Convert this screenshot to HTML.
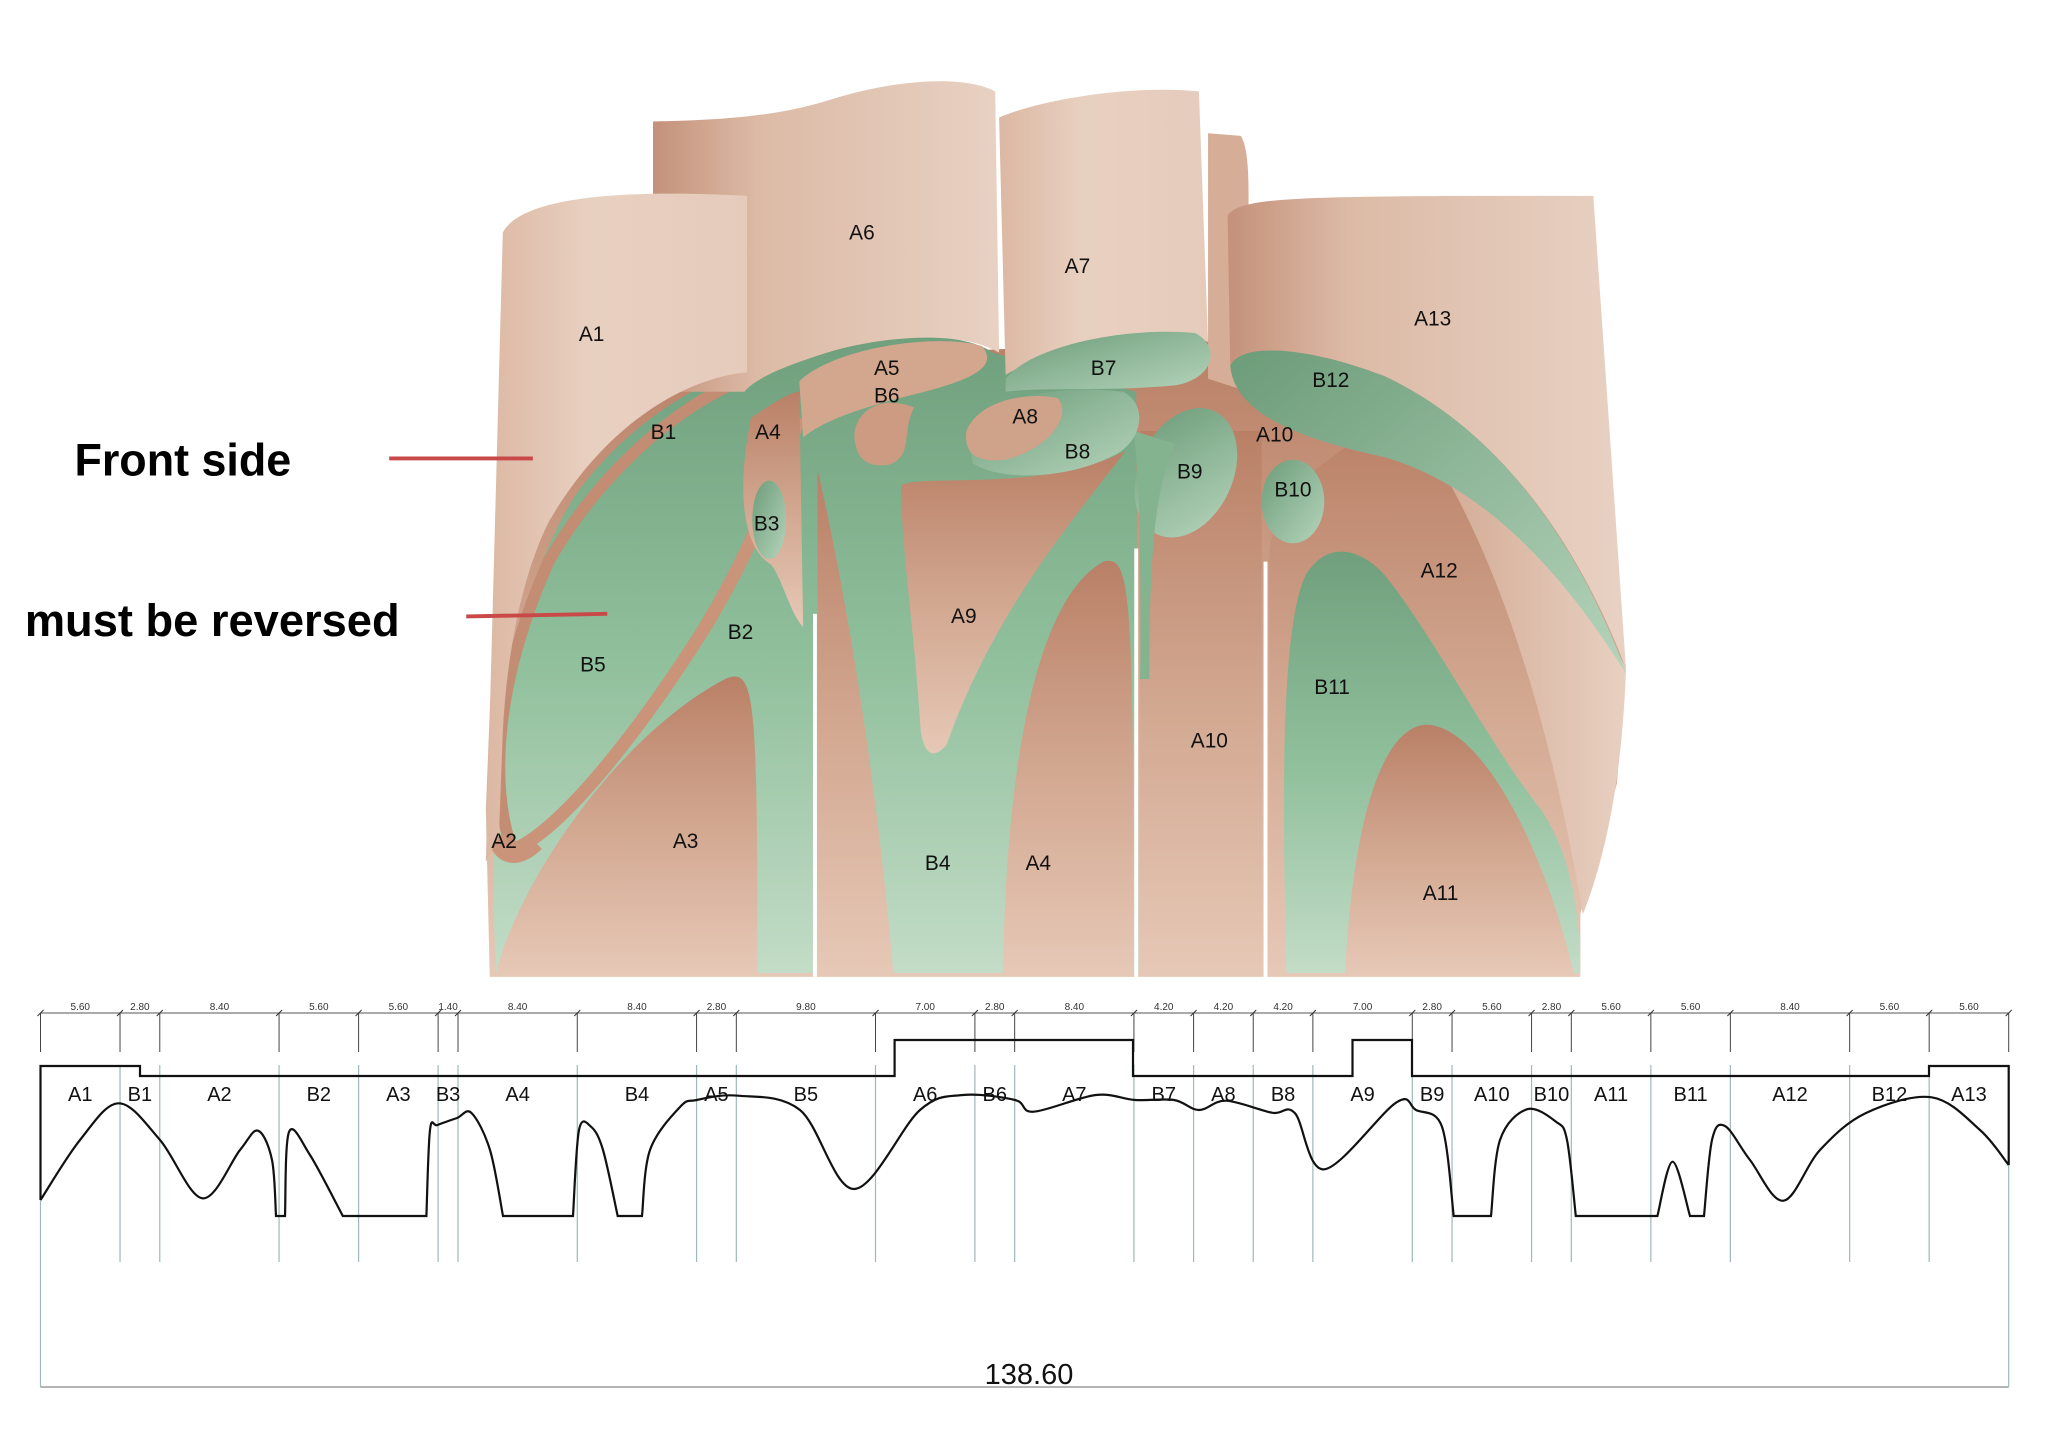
<!DOCTYPE html>
<html><head><meta charset="utf-8"><style>
html,body{margin:0;padding:0;background:#fff;}
svg{display:block;}
text{font-family:"Liberation Sans",Arial,sans-serif;}
</style></head><body>
<svg id="s" width="2048" height="1448" viewBox="0 0 2048 1448" xmlns="http://www.w3.org/2000/svg">
<defs>
<linearGradient id="pk" x1="0" y1="0" x2="0" y2="1"><stop offset="0" stop-color="#b98066"/><stop offset="0.5" stop-color="#d2a790"/><stop offset="1" stop-color="#e6c8b6"/></linearGradient>
<linearGradient id="pl" x1="0" y1="0" x2="1" y2="0"><stop offset="0" stop-color="#dcb8a3"/><stop offset="0.4" stop-color="#e8d0c1"/><stop offset="1" stop-color="#e6cbbb"/></linearGradient>
<linearGradient id="ps" x1="0" y1="0" x2="1" y2="0"><stop offset="0" stop-color="#c4917a"/><stop offset="0.3" stop-color="#dcbaa6"/><stop offset="1" stop-color="#e8d1c3"/></linearGradient>
<linearGradient id="pr" x1="0" y1="0" x2="1" y2="0"><stop offset="0" stop-color="#d4ad97"/><stop offset="1" stop-color="#e8d0c1"/></linearGradient>
<linearGradient id="gr" x1="0" y1="0" x2="0" y2="1"><stop offset="0" stop-color="#6f9f7c"/><stop offset="0.5" stop-color="#8fbf9b"/><stop offset="1" stop-color="#c3dcc7"/></linearGradient>
<linearGradient id="gr2" x1="0" y1="0" x2="1" y2="1"><stop offset="0" stop-color="#6c9c79"/><stop offset="1" stop-color="#b5d4bb"/></linearGradient>
</defs>
<g transform="scale(1.306)">
<path d="M375,748 L372,620 L385,300 L500,280 L920,260 L1220,300 L1245,512 L1238,600 L1210,700 L1210,748 Z" fill="url(#pk)"/>
<path d="M380,745 C372,600 385,470 440,380 C490,310 560,280 620,265 C680,252 740,255 760,270 L870,300 L872,745 Z" fill="url(#gr)"/>
<path d="M380,745 C395,680 470,565 555,520 C578,510 580,530 580,745Z" fill="url(#pk)"/>
<path d="M392,650 C374,600 380,520 420,430 C460,360 520,310 570,290" fill="none" stroke="#c38d73" stroke-width="9"/>
<path d="M388,652 C420,645 480,575 540,480 C570,430 592,380 612,320" fill="none" stroke="#c99479" stroke-width="10"/>
<path d="M380,640 C385,660 400,655 410,645" fill="none" stroke="#c99479" stroke-width="14"/>
<path d="M575,320 C590,310 605,300 612,300 L615,480 C605,470 598,440 590,432 C570,420 563,380 575,320Z" fill="url(#pk)"/>
<ellipse cx="589" cy="398" rx="13" ry="30" fill="url(#gr2)"/>
<path d="M626,745 L626,360 C640,420 668,560 684,745Z" fill="url(#pk)"/>
<path d="M690,372 C700,362 800,378 862,345 C820,400 760,470 725,570 C715,582 708,578 705,560 C700,480 690,420 690,372Z" fill="url(#pk)"/>
<path d="M768,745 C770,600 790,460 845,430 C866,425 868,450 868,745Z" fill="url(#pk)"/>
<path d="M873,745 L873,330 L966,330 L966,745Z" fill="url(#pk)"/>
<path d="M972,745 L972,420 C980,380 1000,365 1020,350 L1060,320 L1180,380 L1245,512 L1238,600 L1210,700 L1210,745Z" fill="url(#pk)"/>
<path d="M1110,370 C1180,410 1235,490 1245,512 C1242,600 1228,660 1212,700 C1195,600 1165,470 1110,370Z" fill="url(#pr)"/>
<path d="M985,745 C982,620 980,480 1000,440 C1015,415 1040,418 1060,440 C1100,490 1140,570 1180,620 C1200,650 1210,690 1210,745Z" fill="url(#gr)"/>
<path d="M1030,745 C1035,640 1055,560 1090,555 C1130,552 1180,640 1205,745Z" fill="url(#pk)"/>
<ellipse cx="908" cy="362" rx="36" ry="52" transform="rotate(25 908 362)" fill="url(#gr2)"/>
<path d="M868,330 C872,360 874,420 873,520 L880,520 C880,420 885,370 900,340Z" fill="#84b48f"/>
<ellipse cx="990" cy="384" rx="24" ry="32" fill="url(#gr2)"/>
<path d="M740,330 C760,300 820,295 860,300 C880,310 875,340 850,350 C820,365 770,370 745,355Z" fill="url(#gr2)"/>
<path d="M740,330 C750,305 790,300 810,305 C822,320 800,345 770,352 C745,355 738,345 740,330Z" fill="#cfa28a"/>
<path d="M612,292 C640,265 720,255 752,265 C766,282 740,292 700,302 C660,312 630,322 615,335Z" fill="#d3a68e"/>
<path d="M655,340 C650,320 670,300 700,312 C690,330 700,350 680,356 C665,358 657,352 655,340Z" fill="#cc9b82"/>
<path d="M500,93 C560,92 600,88 640,75 C690,60 740,58 762,70 L765,270 C740,255 690,255 640,268 C600,280 578,290 570,300 L500,300Z" fill="url(#ps)"/>
<path d="M765,90 C800,75 870,65 918,70 L925,262 C900,252 820,257 770,287Z" fill="url(#pl)"/>
<path d="M925,102 L950,104 C956,112 956,140 956,150 L956,300 L925,290Z" fill="#d6ad97"/>
<path d="M770,290 C790,265 860,250 915,255 C935,265 930,290 900,295 C850,300 800,296 770,300Z" fill="url(#gr2)"/>
<path d="M940,165 C950,150 1000,150 1220,150 L1245,512 C1210,420 1150,330 1060,288 C1000,265 950,262 942,280 Z" fill="url(#ps)"/>
<path d="M942,280 C950,262 1000,265 1060,288 C1150,330 1210,420 1245,515 L1238,505 C1190,430 1130,370 1060,350 C990,335 945,315 942,280Z" fill="url(#gr2)"/>
<path d="M385,178 C400,150 480,145 572,150 L572,285 C520,290 460,330 420,400 C400,440 388,500 385,560 L382,640 L372,660 Z" fill="url(#pl)"/>
<line x1="624" y1="470" x2="624" y2="748" stroke="#fff" stroke-width="3"/>
<line x1="870" y1="420" x2="870" y2="748" stroke="#fff" stroke-width="3"/>
<line x1="969" y1="430" x2="969" y2="748" stroke="#fff" stroke-width="3"/>
<g font-size="16" fill="#111" text-anchor="middle" dominant-baseline="middle">
<text x="660" y="179">A6</text><text x="825" y="205">A7</text><text x="1097" y="245">A13</text><text x="453" y="257">A1</text>
<text x="679" y="283">A5</text><text x="679" y="304">B6</text><text x="845" y="283">B7</text><text x="1019" y="292">B12</text>
<text x="785" y="320">A8</text><text x="825" y="347">B8</text><text x="508" y="332">B1</text><text x="588" y="332">A4</text>
<text x="976" y="334">A10</text><text x="990" y="376">B10</text><text x="911" y="362">B9</text><text x="587" y="402">B3</text>
<text x="1102" y="438">A12</text><text x="738" y="473">A9</text><text x="567" y="485">B2</text><text x="454" y="510">B5</text>
<text x="1020" y="527">B11</text><text x="926" y="568">A10</text><text x="386" y="645">A2</text><text x="525" y="645">A3</text>
<text x="718" y="662">B4</text><text x="795" y="662">A4</text><text x="1103" y="685">A11</text>
</g>
<line x1="298" y1="351" x2="408" y2="351" stroke="#c94848" stroke-width="3"/>
<line x1="357" y1="472" x2="465" y2="470" stroke="#c94848" stroke-width="3"/>
<text x="57" y="364" font-size="35" font-weight="bold" textLength="166" lengthAdjust="spacingAndGlyphs" fill="#000">Front side</text>
<text x="19" y="487" font-size="35" font-weight="bold" textLength="287" lengthAdjust="spacingAndGlyphs" fill="#000">must be reversed</text>
</g>
<g id="bot"></g>
</svg>
<script>
var ns="http://www.w3.org/2000/svg",g=document.getElementById("bot");
function el(t,a,txt){var e=document.createElementNS(ns,t);for(var k in a)e.setAttribute(k,a[k]);if(txt)e.textContent=txt;g.appendChild(e);return e;}
var u=[5.6,2.8,8.4,5.6,5.6,1.4,8.4,8.4,2.8,9.8,7,2.8,8.4,4.2,4.2,4.2,7,2.8,5.6,2.8,5.6,5.6,8.4,5.6,5.6];
var lab=["A1","B1","A2","B2","A3","B3","A4","B4","A5","B5","A6","B6","A7","B7","A8","B8","A9","B9","A10","B10","A11","B11","A12","B12","A13"];
var x0=40.5,s=(2008.7-40.5)/138.6,xs=[x0],c=0;
for(var i=0;i<u.length;i++){c+=u[i];xs.push(x0+c*s);}
el("line",{x1:x0,y1:1013,x2:2008.7,y2:1013,stroke:"#555","stroke-width":1});
el("line",{x1:x0,y1:1387,x2:2008.7,y2:1387,stroke:"#888","stroke-width":1.2});
xs.forEach(function(x,i){
 el("line",{x1:x,y1:1013,x2:x,y2:1052,stroke:"#444","stroke-width":1});
 el("line",{x1:x,y1:1065,x2:x,y2:(i==0||i==xs.length-1)?1387:1262,stroke:"#9fb8b8","stroke-width":1.2});
 el("line",{x1:x-3,y1:1016,x2:x+3,y2:1010,stroke:"#333","stroke-width":1});
});
for(var i=0;i<u.length;i++){
 var m=(xs[i]+xs[i+1])/2;
 el("text",{x:m,y:1010,"font-size":10,"text-anchor":"middle",fill:"#333"},u[i].toFixed(2));
 el("text",{x:m,y:1101,"font-size":20,"text-anchor":"middle",fill:"#111"},lab[i]);
}
el("text",{x:1029,y:1384,"font-size":29,"text-anchor":"middle",fill:"#111"},"138.60");
el("path",{d:"M40.5,1200 L40.5,1066 L140,1066 L140,1076 L894.6,1076 L894.6,1040 L1133,1040 L1133,1076 L1352.5,1076 L1352.5,1040 L1412,1040 L1412,1076 L1929,1076 L1929,1066 L2008.7,1066 L2008.7,1165",fill:"none",stroke:"#111","stroke-width":2.2});
function cr(p){var d="";for(var i=0;i<p.length-1;i++){var a=p[i-1]||p[i],b=p[i],q=p[i+1],r=p[i+2]||q;
 d+=" C"+(b[0]+(q[0]-a[0])/6)+","+(b[1]+(q[1]-a[1])/6)+" "+(q[0]-(r[0]-b[0])/6)+","+(q[1]-(r[1]-b[1])/6)+" "+q[0]+","+q[1];}return d;}
var segs=[
[[40.5,1200],[80,1140],[118.8,1103.3],[160,1140],[202.4,1198.3],[240,1150],[258,1130.7],[272,1160],[276,1216]],
[[285,1216],[289,1132],[310,1155],[342.8,1216]],
[[426.4,1216],[430,1130],[437.5,1125],[457,1118],[471.5,1113],[490,1150],[503,1216]],
[[573,1216],[579,1130],[591,1126.7],[603,1150],[617.7,1216]],
[[642,1216],[650,1150],[680,1107],[696.7,1100],[738,1095.7],[800,1110],[854,1189],[920,1110],[963,1095],[1015,1100],[1033.8,1111.7],[1095.8,1095],[1135,1100],[1174,1100],[1199,1110],[1226,1100.7],[1272,1112.7],[1295,1113.3],[1324.4,1169.3],[1396,1102.7],[1416,1110],[1442,1126.7],[1453.7,1216]],
[[1491,1216],[1500,1140],[1527,1109.3],[1556,1121.7],[1567,1140],[1575.8,1216]],
[[1657.4,1216],[1672.6,1161.7],[1690,1216]],
[[1704,1216],[1712,1140],[1725,1126],[1750,1160],[1783.6,1200.7],[1820,1150],[1866,1113],[1931.7,1097.3],[1980,1130],[2008.7,1165]]];
var d="";segs.forEach(function(p,i){d+=(i==0?"M":" L")+p[0][0]+","+p[0][1]+cr(p);});
el("path",{d:d,fill:"none",stroke:"#111","stroke-width":2.2});
</script>
</body></html>
